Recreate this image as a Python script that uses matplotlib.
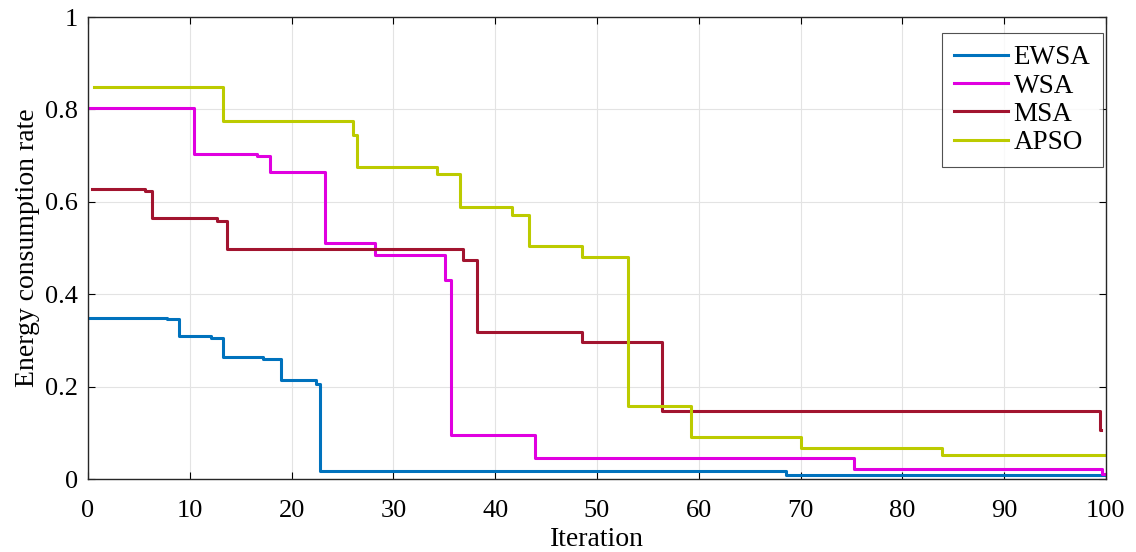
import numpy as np
import matplotlib.pyplot as plt

plt.rcParams['font.family'] = ['Liberation Serif', 'DejaVu Serif']

# step change points (iteration) and level after each change
ewsa_x = [0, 7.8, 8.9, 12.1, 13.3, 17.2, 19.0, 22.4, 22.8, 68.6, 100]
ewsa_y = [0.348, 0.346, 0.310, 0.305, 0.264, 0.260, 0.214, 0.206, 0.017, 0.008, 0.008]

wsa_x = [0, 10.4, 16.6, 17.9, 23.3, 28.2, 35.1, 35.7, 43.9, 75.3, 99.6, 100]
wsa_y = [0.803, 0.703, 0.699, 0.664, 0.511, 0.485, 0.430, 0.096, 0.045, 0.022, 0.010, 0.010]

msa_x = [0.4, 5.6, 6.3, 12.7, 13.7, 36.8, 38.2, 48.5, 56.4, 99.4, 99.5]
msa_y = [0.628, 0.623, 0.565, 0.558, 0.498, 0.474, 0.318, 0.296, 0.147, 0.106, 0.106]

apso_x = [0.6, 13.3, 26.0, 26.4, 34.3, 36.5, 41.7, 43.3, 48.5, 53.0, 59.2, 70.0, 83.9, 100]
apso_y = [0.848, 0.775, 0.745, 0.675, 0.660, 0.589, 0.571, 0.504, 0.480, 0.158, 0.090, 0.067, 0.052, 0.052]

names = ['EWSA', 'WSA', 'MSA', 'APSO']
colors = ['#0072BD', '#E000E0', '#A2142F', '#BCCB00']

fig = plt.figure(figsize=(11.36, 5.52), dpi=100)
ax = fig.add_axes([0.0775, 0.1322, 0.896, 0.837])

series = [(ewsa_x, ewsa_y), (wsa_x, wsa_y), (msa_x, msa_y), (apso_x, apso_y)]
for (xs, ys), name, c in zip(series, names, colors):
    ax.step(xs, ys, where='post', color=c, linewidth=2.2, label=name)

ax.set_xlim(0, 100)
ax.set_ylim(0, 1)
ax.set_xticks(np.arange(0, 101, 10))
ax.set_yticks([0, 0.2, 0.4, 0.6, 0.8, 1])
ax.set_yticklabels(['0', '0.2', '0.4', '0.6', '0.8', '1'])
ax.grid(True, color='#e3e3e3', linewidth=0.8)
ax.set_axisbelow(True)
ax.tick_params(direction='in', top=True, right=True, labelsize=19, length=5)
ax.tick_params(axis='x', pad=15)
ax.tick_params(axis='y', pad=7)
for sp in ax.spines.values():
    sp.set_color('#262626')
    sp.set_linewidth(1.0)

ax.set_xlabel('Iteration', fontsize=20, labelpad=4)
ax.set_ylabel('Energy consumption rate', fontsize=20, labelpad=4)

leg = ax.legend(loc='upper right', bbox_to_anchor=(0.997, 0.965), fontsize=19.5,
                frameon=True, fancybox=False, handlelength=2.0, handletextpad=0.2,
                labelspacing=0.12, borderaxespad=0, borderpad=0.45)
leg.get_frame().set_edgecolor('#262626')
leg.get_frame().set_linewidth(0.8)

fig.savefig('out.png', dpi=100)
